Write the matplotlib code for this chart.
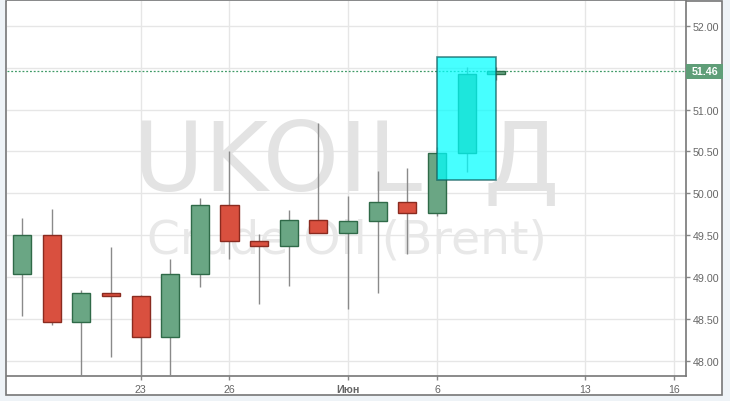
import numpy as np
import matplotlib
matplotlib.use('Agg')
import matplotlib.pyplot as plt
from matplotlib.patches import Rectangle

plt.rcParams['font.family'] = ['Liberation Sans', 'DejaVu Sans']

# дневные свечи UKOIL
opens = [49.04, 49.50, 48.47, 48.81, 48.78, 48.29, 49.04, 49.86, 49.43, 49.37,
         49.68, 49.53, 49.67, 49.90, 49.76, 50.48, 51.42]
highs = [49.71, 49.81, 48.85, 49.36, 48.79, 49.22, 49.94, 50.50, 49.52, 49.80,
         50.84, 49.97, 50.27, 50.30, 50.55, 51.51, 51.51]
lows = [48.54, 48.43, 47.70, 48.05, 47.70, 47.70, 48.88, 49.22, 48.68, 48.89,
        49.53, 48.62, 48.81, 49.28, 49.73, 50.25, 51.35]
closes = [49.50, 48.47, 48.81, 48.78, 48.29, 49.04, 49.86, 49.43, 49.37, 49.68,
          49.53, 49.67, 49.90, 49.76, 50.48, 51.42, 51.46]

tick_pos = [4, 7, 11, 14, 19, 22]
tick_labels = ['23', '26', 'Июн', '6', '13', '16']
price_ticks = [48.0, 48.5, 49.0, 49.5, 50.0, 50.5, 51.0, 51.5, 52.0]
last_price = 51.46

# выделенная область
box_x = [14, 16]
box_y = [50.16, 51.63]

green = '#6aa684'
green_edge = '#2f6a48'
red = '#d9503f'
red_edge = '#8a2b20'

fig = plt.figure(figsize=(7.3, 4.02), dpi=100, facecolor='#eef3f7')
# белая рамка графика
fig.patches.append(Rectangle((6 / 730, 1 - 396 / 402), 716 / 730, 394 / 402,
                             transform=fig.transFigure, facecolor='white',
                             edgecolor='#777777', linewidth=1.2, zorder=-10))
ax = fig.add_axes([7 / 730, 1 - 376.5 / 402, 679 / 730, 374.5 / 402])
ax.set_facecolor('white')

x = np.arange(len(opens))
o = np.array(opens)
c = np.array(closes)
up = c >= o
body_bottom = np.minimum(o, c)
body_h = np.maximum(np.abs(c - o), 0.03)

ax.vlines(x, lows, highs, color='#8a8a8a', linewidth=1, zorder=3)
ax.bar(x[up], body_h[up], bottom=body_bottom[up], width=0.61,
       color=green, edgecolor=green_edge, linewidth=1, zorder=4)
ax.bar(x[~up], body_h[~up], bottom=body_bottom[~up], width=0.61,
       color=red, edgecolor=red_edge, linewidth=1, zorder=4)

ax.add_patch(Rectangle((box_x[0], box_y[0]), box_x[1] - box_x[0], box_y[1] - box_y[0],
                       facecolor='cyan', alpha=0.72, edgecolor='#0d5f5f',
                       linewidth=1.2, zorder=5))

ax.axhline(last_price, color='#3f9a66', linestyle=(0, (1.5, 1.5)), linewidth=0.9, zorder=2)

# водяной знак
ax.text(0.5, 0.566, 'UKOIL, Д', transform=ax.transAxes, ha='center', va='center',
        fontsize=70, color='#e3e3e3', zorder=1, family='DejaVu Sans')
ax.text(0.5, 0.362, 'Crude Oil (Brent)', transform=ax.transAxes, ha='center', va='center',
        fontsize=34, color='#e8e8e8', zorder=1, family='DejaVu Sans')

ax.set_xlim(-0.506, 22.40)
ax.set_ylim(47.826, 52.295)
ax.set_yticks(price_ticks)
ax.set_yticklabels(['' if abs(v - last_price) < 0.1 else '%.2f' % v for v in price_ticks])
ax.yaxis.tick_right()
ax.set_xticks(tick_pos)
ax.set_xticklabels(tick_labels)
for lab in ax.get_xticklabels():
    if lab.get_text() == 'Июн':
        lab.set_fontweight('bold')
        lab.set_color('#555555')
ax.tick_params(axis='both', colors='#888888', labelcolor='#666666', labelsize=7.7,
               length=3, width=1)
ax.tick_params(axis='y', pad=2)
ax.tick_params(axis='x', pad=3)
ax.grid(True, color='#e6e6e6', linewidth=1, zorder=0)
ax.set_axisbelow(True)
for s in ['top', 'left']:
    ax.spines[s].set_visible(False)
for s in ['right', 'bottom']:
    ax.spines[s].set_color('#777777')
    ax.spines[s].set_linewidth(1.2)

# метка текущей цены
ytr = ax.get_yaxis_transform()
ax.add_patch(Rectangle((1.0, last_price - 0.09), 0.054, 0.179, transform=ytr,
                       facecolor='#5f9e78', edgecolor='none', clip_on=False, zorder=6))
ax.text(1.028, last_price, '%.2f' % last_price, transform=ytr, ha='center', va='center',
        fontsize=7.7, fontweight='bold', color='white', zorder=7, clip_on=False)

fig.savefig('out.png', dpi=100, facecolor=fig.get_facecolor())
